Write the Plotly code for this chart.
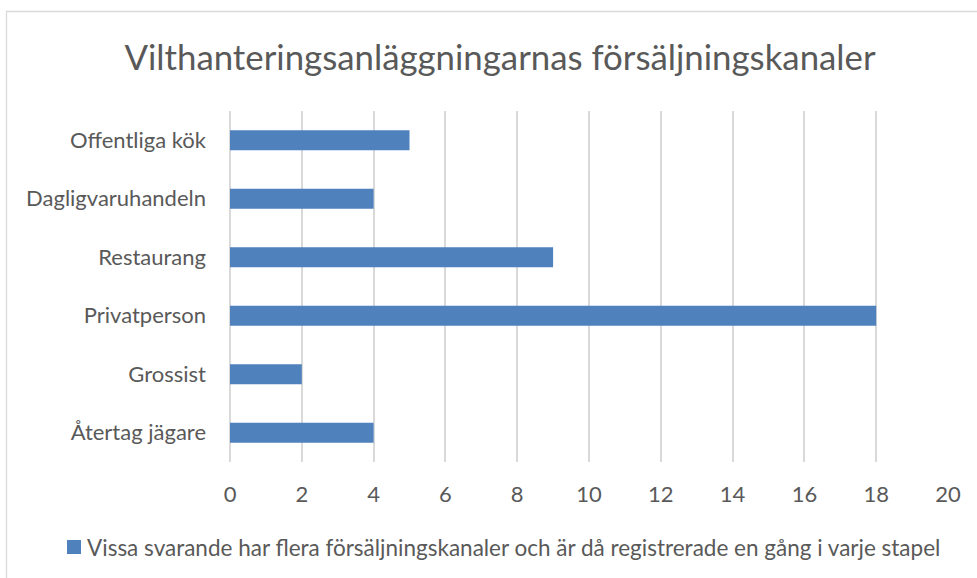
import plotly.graph_objects as go

categories = ["Återtag jägare", "Grossist", "Privatperson", "Restaurang", "Dagligvaruhandeln", "Offentliga kök"]
values = [4, 2, 18, 9, 4, 5]
series_name = "Vissa svarande har flera försäljningskanaler och är då registrerade en gång i varje stapel"
title_text = "Vilthanteringsanläggningarnas försäljningskanaler"
x_ticks = list(range(0, 21, 2))

W, H = 977, 578
L, R, T, B = 230, 29, 111, 116
pw, ph = W - L - R, H - T - B

FONT = "Lato, Open Sans, sans-serif"
TXT = "#595959"
GRID = "#D9D9D9"
BAR = "#4F81BD"


def px_x(p):
    return (p - L) / pw


def px_y(p):
    return (H - B - p) / ph


fig = go.Figure()
fig.add_trace(go.Bar(
    y=categories, x=values, orientation="h", name=series_name,
    marker=dict(color=BAR, line=dict(width=0)), width=0.342,
    showlegend=False,
))

fig.update_layout(
    width=W, height=H,
    margin=dict(l=L, r=R, t=T, b=B, pad=0),
    paper_bgcolor="white", plot_bgcolor="white",
    font=dict(family=FONT, color=TXT, size=22),
    title=dict(text=title_text, x=500 / W, xanchor="center", y=1 - 58 / H, yanchor="middle",
               xref="container", yref="container",
               font=dict(family=FONT, size=34.8, color=TXT)),
    xaxis=dict(range=[0, 20], tickvals=x_ticks, showgrid=True, gridcolor=GRID, gridwidth=1.5,
               zeroline=True, zerolinecolor=GRID, zerolinewidth=1.5, showline=False, ticks="",
               tickfont=dict(size=22, color=TXT), ticklabelstandoff=17, fixedrange=True),
    yaxis=dict(categoryorder="array", categoryarray=categories, showgrid=False, zeroline=False,
               showline=False, ticks="", tickfont=dict(size=22, color=TXT), ticklabelstandoff=23,
               range=[-0.5, len(categories) - 0.5], fixedrange=True),
    showlegend=False,
    shapes=[
        dict(type="rect", xref="paper", yref="paper",
             x0=px_x(6.5), x1=px_x(1000), y0=px_y(620), y1=px_y(11.5),
             line=dict(color=GRID, width=1.3), fillcolor="rgba(0,0,0,0)", layer="below"),
        dict(type="rect", xref="paper", yref="paper",
             x0=px_x(67), x1=px_x(81), y0=px_y(554), y1=px_y(540),
             line=dict(width=0), fillcolor=BAR),
    ],
    annotations=[dict(text=series_name, xref="paper", yref="paper", x=px_x(85), y=px_y(547),
                      xanchor="left", yanchor="middle", showarrow=False,
                      font=dict(family=FONT, size=22.5, color=TXT))],
)

fig.write_html("out.html", config={"displayModeBar": False},
               post_script="document.body.style.margin='0';")
